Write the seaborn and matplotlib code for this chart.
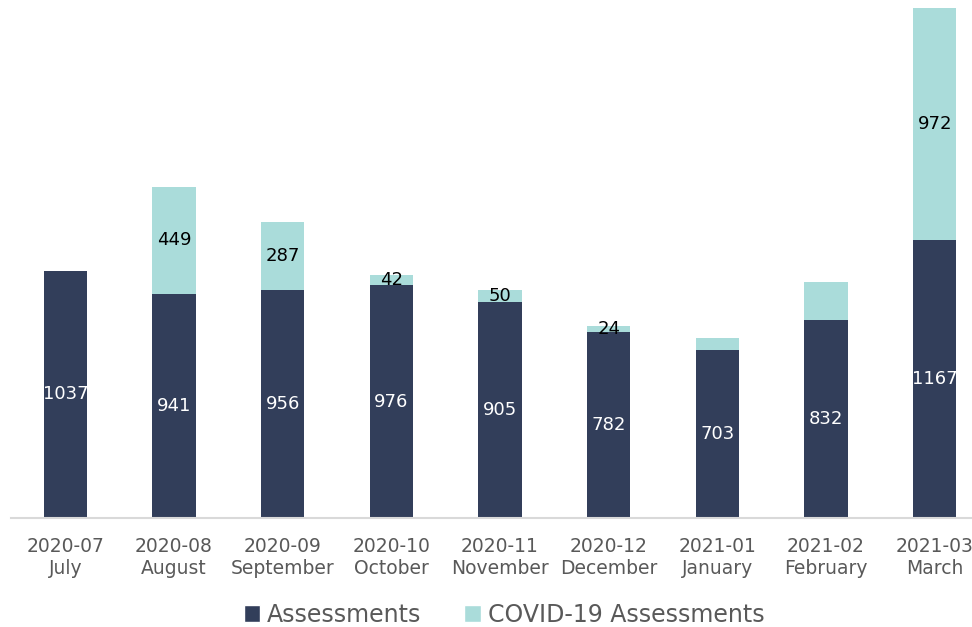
import matplotlib
matplotlib.use("Agg")
import matplotlib.pyplot as plt
from matplotlib.patches import Patch
import seaborn as sns

months = ["2020-07\nJuly", "2020-08\nAugust", "2020-09\nSeptember", "2020-10\nOctober",
          "2020-11\nNovember", "2020-12\nDecember", "2021-01\nJanuary", "2021-02\nFebruary",
          "2021-03\nMarch"]
assessments = [1037, 941, 956, 976, 905, 782, 703, 832, 1167]
covid = [0, 449, 287, 42, 50, 24, 50, 159, 972]
covid_labels = ["", "449", "287", "42", "50", "24", "", "", "972"]

navy = "#323E5A"
teal = "#AADCDA"
grey = "#595959"

sns.set_style("white")
plt.rcParams["font.family"] = ["DejaVu Sans"]

fig = plt.figure(figsize=(9.72, 6.27), dpi=100)
ax = fig.add_axes([11 / 972, 109 / 627, 978 / 972, 510 / 627])

# light bar = total, dark bar drawn over it
totals = [a + c for a, c in zip(assessments, covid)]
sns.barplot(x=months, y=totals, color=teal, width=0.4, linewidth=0, saturation=1, ax=ax)
sns.barplot(x=months, y=assessments, color=navy, width=0.4, linewidth=0, saturation=1, ax=ax)

for i, (a, c, lab) in enumerate(zip(assessments, covid, covid_labels)):
    ax.text(i, a / 2, str(a), ha="center", va="center", color="white", fontsize=13)
    if lab:
        ax.text(i, a + c / 2, lab, ha="center", va="center", color="black", fontsize=13)

ax.set_xlim(-0.5, 8.5)
ax.set_ylim(0, max(totals))
ax.set_yticks([])
ax.set_ylabel("")
for s in ["left", "right", "top"]:
    ax.spines[s].set_visible(False)
ax.spines["bottom"].set_color("#D9D9D9")
ax.spines["bottom"].set_linewidth(1.5)
ax.tick_params(axis="x", length=0, pad=14, labelsize=13.5, labelcolor=grey)

handles = [Patch(facecolor=navy, label="Assessments"),
           Patch(facecolor=teal, label="COVID-19 Assessments")]
fig.legend(handles=handles, loc="center", bbox_to_anchor=(504 / 972, 1 - 615 / 627),
           ncol=2, frameon=False, fontsize=17, labelcolor=grey,
           handlelength=0.7, handleheight=0.7, handletextpad=0.3, columnspacing=1.8)

fig.savefig("out.png", dpi=100)
